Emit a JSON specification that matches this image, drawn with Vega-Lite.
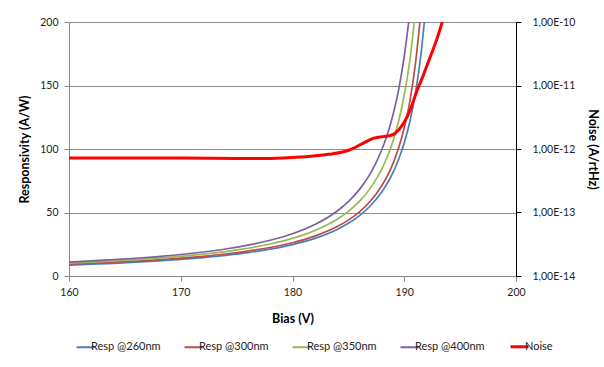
{
  "$schema": "https://vega.github.io/schema/vega-lite/v6.json",
  "width": 447,
  "height": 254,
  "autosize": {"type": "none"},
  "padding": {"left": 69, "top": 22, "right": 88, "bottom": 91},
  "background": "white",
  "config": {
    "font": "Lato",
    "view": {"stroke": null},
    "axis": {
      "labelFont": "Lato",
      "labelFontSize": 10.5,
      "labelColor": "#222",
      "titleFont": "Lato",
      "titleFontSize": 12.5,
      "titleFontWeight": "bold",
      "titleColor": "#000",
      "domainColor": "#868686",
      "tickColor": "#868686",
      "gridColor": "#8c8c8c",
      "tickSize": 5,
      "labelFlush": false
    },
    "legend": {"labelFont": "Lato", "labelFontSize": 11, "labelColor": "#222"}
  },
  "datasets": {
    "resp": [
      {"bias": 160, "series": "Resp @260nm", "value": 8.6},
      {"bias": 162, "series": "Resp @260nm", "value": 9.25},
      {"bias": 164, "series": "Resp @260nm", "value": 9.98},
      {"bias": 166, "series": "Resp @260nm", "value": 10.86},
      {"bias": 168, "series": "Resp @260nm", "value": 11.85},
      {"bias": 170, "series": "Resp @260nm", "value": 13.05},
      {"bias": 172, "series": "Resp @260nm", "value": 14.48},
      {"bias": 174, "series": "Resp @260nm", "value": 16.21},
      {"bias": 176, "series": "Resp @260nm", "value": 18.37},
      {"bias": 178, "series": "Resp @260nm", "value": 21.12},
      {"bias": 180, "series": "Resp @260nm", "value": 24.74},
      {"bias": 182, "series": "Resp @260nm", "value": 29.66},
      {"bias": 184, "series": "Resp @260nm", "value": 36.7},
      {"bias": 185, "series": "Resp @260nm", "value": 41.5},
      {"bias": 186, "series": "Resp @260nm", "value": 47.6},
      {"bias": 187, "series": "Resp @260nm", "value": 55.5},
      {"bias": 188, "series": "Resp @260nm", "value": 66.3},
      {"bias": 188.5, "series": "Resp @260nm", "value": 73.2},
      {"bias": 189, "series": "Resp @260nm", "value": 81.6},
      {"bias": 189.5, "series": "Resp @260nm", "value": 91.9},
      {"bias": 190, "series": "Resp @260nm", "value": 104.9},
      {"bias": 190.5, "series": "Resp @260nm", "value": 121.5},
      {"bias": 191, "series": "Resp @260nm", "value": 143.8},
      {"bias": 191.5, "series": "Resp @260nm", "value": 174.9},
      {"bias": 191.8, "series": "Resp @260nm", "value": 200},
      {"bias": 160, "series": "Resp @300nm", "value": 9.39},
      {"bias": 162, "series": "Resp @300nm", "value": 10.08},
      {"bias": 164, "series": "Resp @300nm", "value": 10.85},
      {"bias": 166, "series": "Resp @300nm", "value": 11.75},
      {"bias": 168, "series": "Resp @300nm", "value": 12.8},
      {"bias": 170, "series": "Resp @300nm", "value": 14.04},
      {"bias": 172, "series": "Resp @300nm", "value": 15.52},
      {"bias": 174, "series": "Resp @300nm", "value": 17.32},
      {"bias": 176, "series": "Resp @300nm", "value": 19.57},
      {"bias": 178, "series": "Resp @300nm", "value": 22.44},
      {"bias": 180, "series": "Resp @300nm", "value": 26.2},
      {"bias": 182, "series": "Resp @300nm", "value": 31.4},
      {"bias": 184, "series": "Resp @300nm", "value": 38.9},
      {"bias": 185, "series": "Resp @300nm", "value": 44.0},
      {"bias": 186, "series": "Resp @300nm", "value": 50.5},
      {"bias": 187, "series": "Resp @300nm", "value": 59.2},
      {"bias": 188, "series": "Resp @300nm", "value": 71.3},
      {"bias": 188.5, "series": "Resp @300nm", "value": 79.1},
      {"bias": 189, "series": "Resp @300nm", "value": 88.7},
      {"bias": 189.5, "series": "Resp @300nm", "value": 100.9},
      {"bias": 190, "series": "Resp @300nm", "value": 116.7},
      {"bias": 190.5, "series": "Resp @300nm", "value": 137.5},
      {"bias": 191, "series": "Resp @300nm", "value": 167},
      {"bias": 191.4, "series": "Resp @300nm", "value": 200},
      {"bias": 160, "series": "Resp @350nm", "value": 10.2},
      {"bias": 162, "series": "Resp @350nm", "value": 10.96},
      {"bias": 164, "series": "Resp @350nm", "value": 11.83},
      {"bias": 166, "series": "Resp @350nm", "value": 12.86},
      {"bias": 168, "series": "Resp @350nm", "value": 14.05},
      {"bias": 170, "series": "Resp @350nm", "value": 15.47},
      {"bias": 172, "series": "Resp @350nm", "value": 17.17},
      {"bias": 174, "series": "Resp @350nm", "value": 19.25},
      {"bias": 176, "series": "Resp @350nm", "value": 21.86},
      {"bias": 178, "series": "Resp @350nm", "value": 25.2},
      {"bias": 180, "series": "Resp @350nm", "value": 29.6},
      {"bias": 182, "series": "Resp @350nm", "value": 35.8},
      {"bias": 184, "series": "Resp @350nm", "value": 44.7},
      {"bias": 185, "series": "Resp @350nm", "value": 50.9},
      {"bias": 186, "series": "Resp @350nm", "value": 58.9},
      {"bias": 187, "series": "Resp @350nm", "value": 69.6},
      {"bias": 188, "series": "Resp @350nm", "value": 84.4},
      {"bias": 188.5, "series": "Resp @350nm", "value": 94.3},
      {"bias": 189, "series": "Resp @350nm", "value": 106.4},
      {"bias": 189.5, "series": "Resp @350nm", "value": 122},
      {"bias": 190, "series": "Resp @350nm", "value": 142.4},
      {"bias": 190.5, "series": "Resp @350nm", "value": 169.7},
      {"bias": 190.9, "series": "Resp @350nm", "value": 200},
      {"bias": 160, "series": "Resp @400nm", "value": 10.99},
      {"bias": 162, "series": "Resp @400nm", "value": 11.84},
      {"bias": 164, "series": "Resp @400nm", "value": 12.83},
      {"bias": 166, "series": "Resp @400nm", "value": 13.98},
      {"bias": 168, "series": "Resp @400nm", "value": 15.33},
      {"bias": 170, "series": "Resp @400nm", "value": 16.93},
      {"bias": 172, "series": "Resp @400nm", "value": 18.89},
      {"bias": 174, "series": "Resp @400nm", "value": 21.25},
      {"bias": 176, "series": "Resp @400nm", "value": 24.26},
      {"bias": 178, "series": "Resp @400nm", "value": 28.13},
      {"bias": 180, "series": "Resp @400nm", "value": 33.3},
      {"bias": 182, "series": "Resp @400nm", "value": 40.5},
      {"bias": 184, "series": "Resp @400nm", "value": 51.2},
      {"bias": 185, "series": "Resp @400nm", "value": 58.6},
      {"bias": 186, "series": "Resp @400nm", "value": 68.2},
      {"bias": 187, "series": "Resp @400nm", "value": 81.2},
      {"bias": 188, "series": "Resp @400nm", "value": 99.6},
      {"bias": 188.5, "series": "Resp @400nm", "value": 111.9},
      {"bias": 189, "series": "Resp @400nm", "value": 127.2},
      {"bias": 189.5, "series": "Resp @400nm", "value": 146.8},
      {"bias": 190, "series": "Resp @400nm", "value": 172.9},
      {"bias": 190.4, "series": "Resp @400nm", "value": 200}
    ],
    "noise": [
      {"bias": 160, "series": "Noise", "noise": 7.24e-13},
      {"bias": 165, "series": "Noise", "noise": 7.24e-13},
      {"bias": 170, "series": "Noise", "noise": 7.22e-13},
      {"bias": 175, "series": "Noise", "noise": 7.11e-13},
      {"bias": 178, "series": "Noise", "noise": 7.08e-13},
      {"bias": 180.7, "series": "Noise", "noise": 7.45e-13},
      {"bias": 183.2, "series": "Noise", "noise": 8.24e-13},
      {"bias": 185.1, "series": "Noise", "noise": 9.64e-13},
      {"bias": 186.3, "series": "Noise", "noise": 1.23e-12},
      {"bias": 187.2, "series": "Noise", "noise": 1.47e-12},
      {"bias": 188.9, "series": "Noise", "noise": 1.66e-12},
      {"bias": 189.5, "series": "Noise", "noise": 2.0e-12},
      {"bias": 190.5, "series": "Noise", "noise": 3.98e-12},
      {"bias": 191.1, "series": "Noise", "noise": 7.94e-12},
      {"bias": 191.7, "series": "Noise", "noise": 1.445e-11},
      {"bias": 192.3, "series": "Noise", "noise": 2.75e-11},
      {"bias": 192.9, "series": "Noise", "noise": 5.25e-11},
      {"bias": 193.4, "series": "Noise", "noise": 1e-10}
    ]
  },
  "encoding": {
    "x": {
      "field": "bias",
      "type": "quantitative",
      "scale": {"domain": [160, 200], "nice": false},
      "axis": {
        "title": "Bias (V)",
        "values": [160, 170, 180, 190, 200],
        "grid": false,
        "labelPadding": 6,
        "titlePadding": 15
      }
    }
  },
  "layer": [
    {
      "data": {"name": "resp"},
      "mark": {"type": "line", "interpolate": "monotone", "clip": true, "strokeWidth": 1.7},
      "encoding": {
        "y": {
          "field": "value",
          "type": "quantitative",
          "scale": {"domain": [0, 200], "nice": false},
          "axis": {
            "title": "Responsivity (A/W)",
            "values": [0, 50, 100, 150, 200],
            "grid": true,
            "labelPadding": 6,
            "titlePadding": 8
          }
        },
        "color": {
          "field": "series",
          "type": "nominal",
          "scale": {
            "domain": ["Resp @260nm", "Resp @300nm", "Resp @350nm", "Resp @400nm", "Noise"],
            "range": ["#4A7EBB", "#BE4B48", "#98B954", "#7D60A0", "#FF0000"]
          },
          "legend": {
            "title": null,
            "orient": "none",
            "direction": "horizontal",
            "legendX": 11,
            "legendY": 319,
            "symbolType": "stroke",
            "symbolSize": 324,
            "symbolStrokeWidth": {"expr": "datum.value === 'Noise' ? 3 : 2"},
            "labelOffset": 0,
            "columnPadding": 19
          }
        }
      }
    },
    {
      "data": {"name": "noise"},
      "mark": {"type": "line", "interpolate": "monotone", "clip": true, "strokeWidth": 3},
      "encoding": {
        "y": {
          "field": "noise",
          "type": "quantitative",
          "scale": {"type": "log", "domain": [1e-14, 1e-10], "nice": false},
          "axis": {
            "orient": "right",
            "title": "Noise (A/rtHz)",
            "values": [1e-14, 1e-13, 1e-12, 1e-11, 1e-10],
            "labelExpr": "'1,00E-' + round(-log(datum.value)/LN10)",
            "grid": false,
            "domainColor": "#000",
            "tickColor": "#000",
            "labelPadding": 11,
            "titlePadding": 11
          }
        },
        "color": {"field": "series", "type": "nominal", "legend": null}
      }
    }
  ],
  "resolve": {"scale": {"y": "independent"}}
}
